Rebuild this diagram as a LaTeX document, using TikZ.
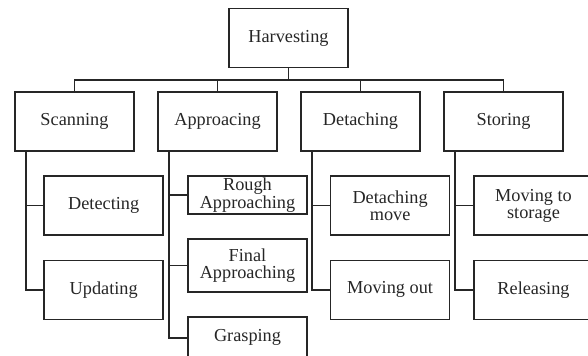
\documentclass[tikz,border=0pt]{standalone}
\usepackage{fontspec}
\setmainfont{Liberation Serif}
\usetikzlibrary{positioning}

\begin{document}
\begin{tikzpicture}[node distance=3.575cm,on grid,
    box/.style={draw=black!85,line width=1.2pt,minimum width=2.975cm,minimum height=1.475cm,
      inner sep=0pt,align=center,text=black!85,font=\fontsize{13}{12.2}\selectfont},
    flat/.style={box,minimum height=0.95cm},
    wire/.style={draw=black!85,line width=1.2pt}]
   \useasboundingbox (-7.2125,0.95) rectangle (7.4875,-7.95);
   \node[box] (harv) at (0,0) {Harvesting};
   % first level
   \node[box] (scan) [below left=2.0875cm and 5.35cm of harv] {Scanning};
   \node[box] (appr) [right=of scan] {Approacing};
   \node[box] (detach) [right=of appr] {Detaching};
   \node[box] (store) [right=of detach] {Storing};
   % second level
   \node[box] (detect) [below right=2.1cm and 0.73cm of scan] {Detecting};
   \node[box] (update) [below=2.11cm of detect] {Updating};
   \node[flat] (rough) [below right=1.84cm and 0.75cm of appr] {Rough\\Approaching};
   \node[box,minimum height=1.325cm] (final) [below=1.76cm of rough] {Final\\Approaching};
   \node[box,minimum height=1.05cm] (grasp) [below=1.81cm of final] {Grasping};
   \node[box] (dmove) [below right=2.1cm and 0.74cm of detach] {Detaching\\move};
   \node[box] (mout) [below=2.11cm of dmove] {Moving out};
   \node[box] (mstore) [below right=2.1cm and 0.75cm of store] {Moving to\\storage};
   \node[box] (release) [below=2.11cm of mstore] {Releasing};
   \foreach \c in {scan,appr,detach,store}
     \draw[wire] (harv.south) -- ++(0,-0.3) -| (\c.north);
   \foreach \p/\c in {scan/detect,scan/update,appr/rough,appr/final,appr/grasp,
                      detach/dmove,detach/mout,store/mstore,store/release}
     \draw[wire] ([xshift=0.3cm]\p.south west) |- (\c.west);
\end{tikzpicture}
\end{document}
